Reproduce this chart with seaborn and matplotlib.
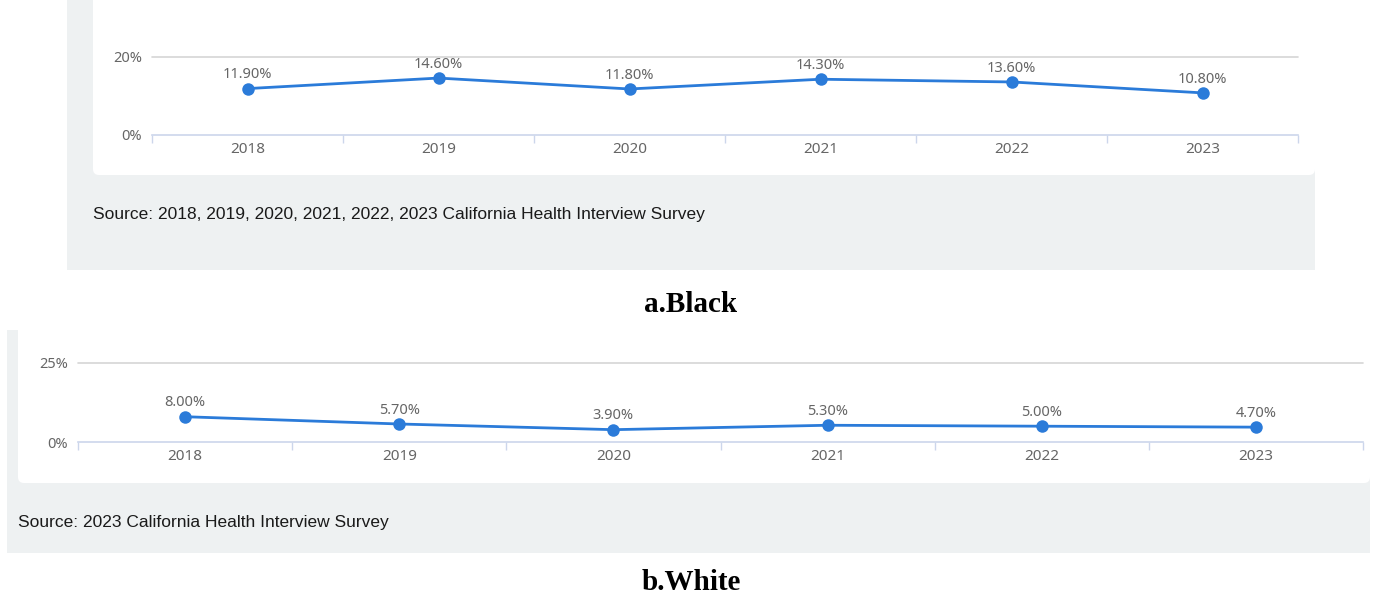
import matplotlib
matplotlib.use("Agg")
import matplotlib.pyplot as plt
from matplotlib.patches import Rectangle, FancyBboxPatch
import seaborn as sns
import pandas as pd

years = ["2018", "2019", "2020", "2021", "2022", "2023"]
black_rates = [11.9, 14.6, 11.8, 14.3, 13.6, 10.8]
white_rates = [8.0, 5.7, 3.9, 5.3, 5.0, 4.7]
black_source = "Source: 2018, 2019, 2020, 2021, 2022, 2023 California Health Interview Survey"
white_source = "Source: 2023 California Health Interview Survey"

W, H = 1379, 601
line_color = "#2b7bd9"
text_grey = "#666666"
panel_grey = "#eef1f2"
axis_color = "#ccd6eb"
grid_color = "#d6d6d6"

sns.set_style("white")
plt.rcParams["font.family"] = ["Liberation Sans", "DejaVu Sans"]
label_font = ["Noto Sans", "DejaVu Sans"]

fig = plt.figure(figsize=(W / 100, H / 100), dpi=100)

# background layer in pixel coordinates
bg = fig.add_axes([0, 0, 1, 1], zorder=-1)
bg.set_xlim(0, W)
bg.set_ylim(H, 0)
bg.axis("off")


def panel(x0, y0, x1, y_card, y1, card_x0):
    bg.add_patch(Rectangle((x0, y0), x1 - x0, y1 - y0, color=panel_grey, lw=0))
    bg.add_patch(FancyBboxPatch((card_x0, y0 - 10), x1 - card_x0, y_card - y0 + 10,
                                boxstyle="round,pad=0,rounding_size=6",
                                color="white", lw=0))


panel(67, 0, 1315, 175, 270, 93)
panel(7, 330, 1370, 483, 553, 18)

bg.text(93, 214, black_source, fontsize=12.5, va="center", ha="left", color="#1a1a1a")
bg.text(18, 522, white_source, fontsize=12.5, va="center", ha="left", color="#1a1a1a")
bg.text(691, 305, "a.Black", fontsize=21, fontweight="bold", family="Liberation Serif",
        ha="center", va="center", color="black")
bg.text(691, 583, "b.White", fontsize=21, fontweight="bold", family="Liberation Serif",
        ha="center", va="center", color="black")


def draw_chart(rect_px, values, ymax):
    left, right, top, bottom = rect_px
    ax = fig.add_axes([left / W, (H - bottom) / H, (right - left) / W, (bottom - top) / H])
    ax.set_facecolor("none")
    df = pd.DataFrame({"pos": range(len(years)), "value": values})
    sns.lineplot(data=df, x="pos", y="value", ax=ax, color=line_color, lw=2,
                 marker="o", markersize=9, markeredgewidth=0, clip_on=False)
    for i, v in enumerate(values):
        ax.annotate(f"{v:.2f}%", (i, v), xytext=(0, 4.5), textcoords="offset points",
                    ha="center", va="bottom", fontsize=10.5, color=text_grey,
                    family=label_font)
    ax.set_xlim(-0.5, len(years) - 0.5)
    ax.set_ylim(0, ymax)
    ax.set_yticks([0, ymax])
    ax.set_yticklabels(["0%", f"{ymax}%"], fontsize=10.5, color=text_grey, family=label_font)
    ax.axhline(ymax, color=grid_color, lw=1.2, clip_on=False)
    ax.set_xticks(range(len(years)))
    ax.set_xticklabels(years, fontsize=11, color=text_grey, family=label_font)
    ax.set_xticks([i - 0.5 for i in range(len(years) + 1)], minor=True)
    ax.tick_params(axis="x", which="major", bottom=False, length=0, pad=5)
    ax.tick_params(axis="x", which="minor", bottom=True, direction="out",
                   length=6, color=axis_color, width=1)
    ax.tick_params(axis="y", length=0, pad=7)
    for side in ["top", "right", "left"]:
        ax.spines[side].set_visible(False)
    ax.spines["bottom"].set_color(axis_color)
    ax.spines["bottom"].set_linewidth(1.2)
    ax.set_xlabel("")
    ax.set_ylabel("")
    return ax


draw_chart((152, 1298, 57, 135), black_rates, 20)
draw_chart((78, 1363, 363, 442), white_rates, 25)

fig.savefig("out.png", dpi=100)
